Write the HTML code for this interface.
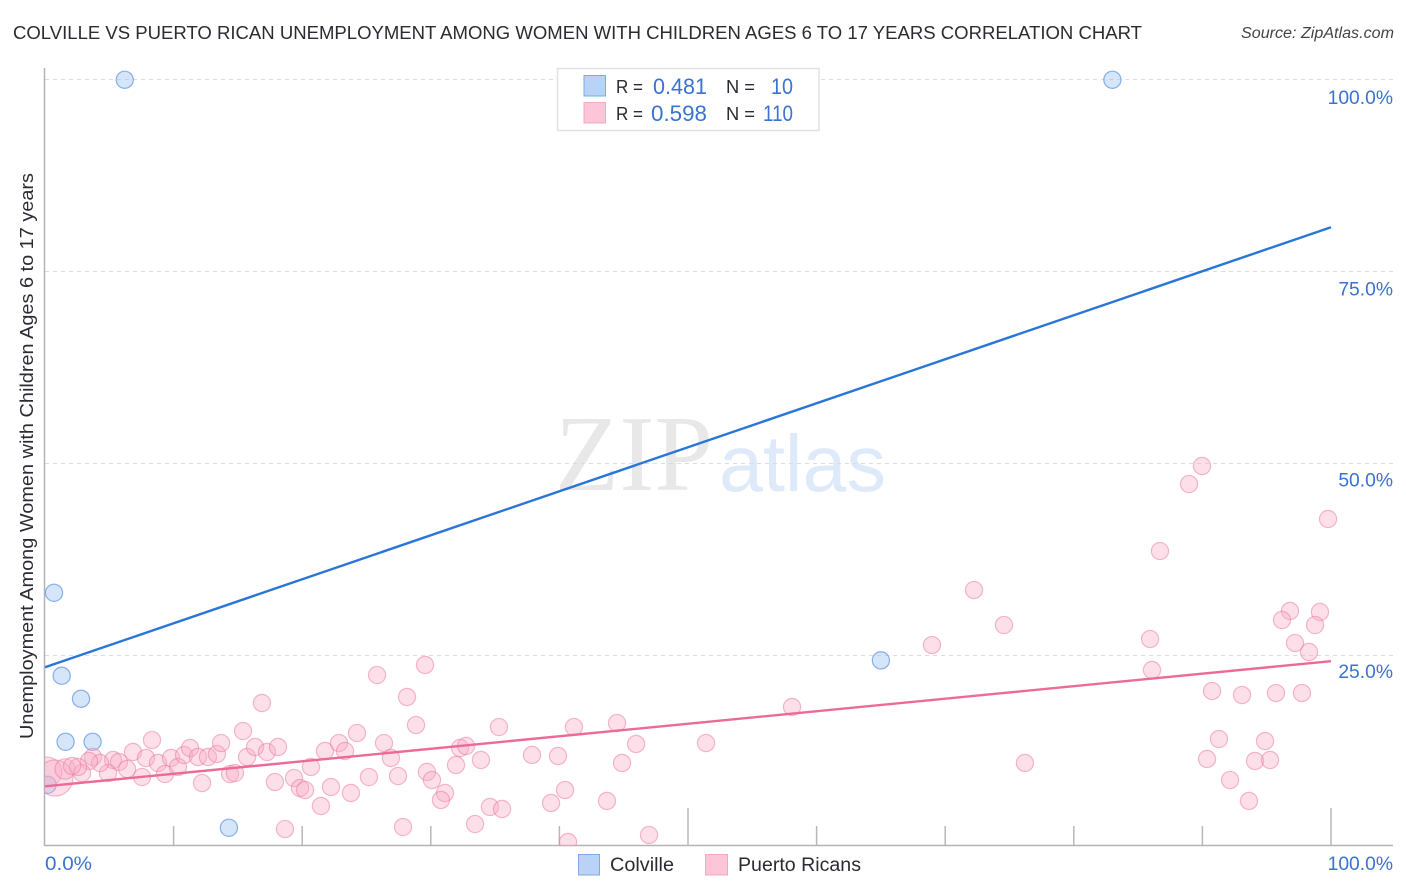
<!DOCTYPE html>
<html lang="en">
<head>
<meta charset="utf-8">
<title>Colville vs Puerto Rican Unemployment Correlation Chart</title>
<style>
html,body{margin:0;padding:0;background:#fff;}
svg{display:block;font-family:"Liberation Sans",sans-serif;}
</style>
</head>
<body>
<svg id="chart" xmlns="http://www.w3.org/2000/svg" width="1406" height="892" viewBox="0 0 1406 892">
  <defs><clipPath id="plot-clip"><rect x="45" y="60" width="1350" height="786"/></clipPath></defs>
  <text x="13" y="39" font-size="18.6" fill="#2b2b33" textLength="1129" lengthAdjust="spacingAndGlyphs">COLVILLE VS PUERTO RICAN UNEMPLOYMENT AMONG WOMEN WITH CHILDREN AGES 6 TO 17 YEARS CORRELATION CHART</text>
  <text x="1394" y="38" font-size="15.5" font-style="italic" fill="#444" text-anchor="end" textLength="153" lengthAdjust="spacingAndGlyphs">Source: ZipAtlas.com</text>
  <text x="555" y="490" font-family="'Liberation Serif',serif" font-size="108" fill="#e8e8e8" textLength="158" lengthAdjust="spacingAndGlyphs">ZIP</text>
  <text x="719" y="491" font-size="80" fill="#deeaf9" textLength="167" lengthAdjust="spacingAndGlyphs">atlas</text>
  <g id="grid"></g>
  <g id="axes">
    <line x1="44.5" y1="68" x2="44.5" y2="846" stroke="#b4b4b4" stroke-width="1.5"/>
    <line x1="44" y1="845.5" x2="1393" y2="845.5" stroke="#b4b4b4" stroke-width="1.5"/>
  </g>
  <g id="x-ticks"></g>
  <g id="y-labels"></g>
  <g id="x-labels"></g>
  <text transform="translate(33,456) rotate(-90)" font-size="18.5" fill="#2b2b33" text-anchor="middle" textLength="566" lengthAdjust="spacingAndGlyphs">Unemployment Among Women with Children Ages 6 to 17 years</text>
  <g id="points" clip-path="url(#plot-clip)"></g>
  <g id="lines"></g>

  <g>
    <rect x="557.5" y="68.5" width="261.5" height="62" fill="#fff" stroke="#e2e2e2" stroke-width="1.5"/>
    <rect x="584" y="75.5" width="21.5" height="20.5" fill="#b9d3f6" stroke="#7eaae6" stroke-width="1"/>
    <rect x="584" y="102.5" width="21.5" height="20.5" fill="#fcc5d8" stroke="#f5a8c2" stroke-width="1"/>
    <text x="616" y="93" font-size="18.5" fill="#2b2b33" textLength="27" lengthAdjust="spacingAndGlyphs">R =</text>
    <text x="653" y="94" font-size="22" fill="#3a73cf" textLength="54" lengthAdjust="spacingAndGlyphs">0.481</text>
    <text x="726" y="93" font-size="18.5" fill="#2b2b33" textLength="29" lengthAdjust="spacingAndGlyphs">N =</text>
    <text x="771" y="94" font-size="22" fill="#3a73cf" textLength="22" lengthAdjust="spacingAndGlyphs">10</text>
    <text x="616" y="120" font-size="18.5" fill="#2b2b33" textLength="27" lengthAdjust="spacingAndGlyphs">R =</text>
    <text x="651" y="121" font-size="22" fill="#3a73cf" textLength="56" lengthAdjust="spacingAndGlyphs">0.598</text>
    <text x="726" y="120" font-size="18.5" fill="#2b2b33" textLength="29" lengthAdjust="spacingAndGlyphs">N =</text>
    <text x="763" y="121" font-size="22" fill="#3a73cf" textLength="30" lengthAdjust="spacingAndGlyphs">110</text>
  </g>

  <g>
    <rect x="578.5" y="854.5" width="21" height="20.5" fill="#b9d3f6" stroke="#7eaae6" stroke-width="1"/>
    <text x="610" y="871" font-size="19" fill="#2b2b33" textLength="64" lengthAdjust="spacingAndGlyphs">Colville</text>
    <rect x="705.5" y="854.5" width="22" height="20.5" fill="#fcc5d8" stroke="#f5a8c2" stroke-width="1"/>
    <text x="738" y="871" font-size="19" fill="#2b2b33" textLength="123" lengthAdjust="spacingAndGlyphs">Puerto Ricans</text>
  </g>
</svg>
<script>
const yTickValues = [100, 75, 50, 25];
const yTickLabels = ["100.0%", "75.0%", "50.0%", "25.0%"];
const xTickValues = [10, 20, 30, 40, 50, 60, 70, 80, 90, 100];
const xEdgeValues = [0, 100];
const xEdgeLabels = ["0.0%", "100.0%"];

const colvilleX = [6.2, 83.0, 0.7, 1.3, 2.8, 1.6, 3.7, 14.3, 65.0, 0.2];
const colvilleY = [99.9, 99.9, 33.1, 22.3, 19.3, 13.7, 13.7, 2.5, 24.3, 8.1];

const puertoX = [8.32, 6.84, 7.85, 5.29, 5.75, 6.38, 4.90, 7.54, 8.79, 9.33, 9.80, 10.34, 10.81, 11.28, 11.90, 12.67, 13.37, 13.69, 12.21, 14.39, 14.77, 15.40, 15.71, 3.73, 4.28, 3.42, 2.88, 2.57, 2.10, 16.87, 16.33, 17.26, 18.12, 17.88, 19.36, 19.83, 20.22, 18.66, 20.68, 21.77, 22.86, 23.33, 24.26, 22.24, 21.46, 23.79, 25.19, 26.36, 26.90, 27.45, 27.84, 28.15, 28.85, 29.70, 30.09, 31.10, 30.79, 31.96, 32.27, 32.74, 35.30, 33.90, 37.87, 39.89, 41.13, 44.48, 45.96, 44.87, 51.40, 40.44, 39.35, 43.70, 34.60, 35.54, 33.44, 40.67, 46.97, 90.75, 93.08, 95.72, 97.74, 91.29, 94.87, 90.36, 94.09, 95.26, 92.15, 93.62, 89.97, 88.96, 99.77, 86.70, 96.81, 96.19, 99.14, 98.76, 97.20, 98.29, 85.93, 86.08, 72.24, 74.57, 68.97, 58.09, 76.20, 29.55, 25.82];
const puertoY = [13.93, 12.37, 11.59, 11.33, 11.07, 10.16, 9.63, 9.11, 10.94, 9.50, 11.59, 10.42, 11.98, 12.89, 11.72, 11.72, 12.11, 13.54, 8.33, 9.50, 9.63, 15.10, 11.72, 11.72, 10.94, 11.20, 9.63, 10.42, 10.55, 18.75, 13.02, 12.37, 13.02, 8.46, 8.98, 7.68, 7.42, 2.34, 10.42, 12.50, 13.54, 12.50, 14.84, 7.81, 5.34, 7.03, 9.11, 13.54, 11.59, 9.24, 2.60, 19.53, 15.88, 9.77, 8.72, 7.03, 6.12, 10.68, 12.89, 13.15, 15.62, 11.33, 11.98, 11.85, 15.62, 16.14, 13.41, 10.94, 13.54, 7.42, 5.73, 5.99, 5.21, 4.95, 2.99, 0.65, 1.56, 20.31, 19.79, 20.05, 20.05, 14.06, 13.80, 11.46, 11.20, 11.33, 8.72, 5.99, 49.61, 47.26, 42.71, 38.54, 30.73, 29.56, 30.60, 28.90, 26.56, 25.39, 27.08, 23.05, 33.46, 28.90, 26.30, 18.23, 10.94, 23.70, 22.39];

const puertoLargeX = [0.15, 0.78, 1.56];
const puertoLargeY = [9.77, 8.98, 10.16];
const puertoLargeWeight = [3.0, 4.4, 1.4];

const trendX = [0, 100];
const colvilleTrendY = [23.4, 80.7];
const puertoTrendY = [7.9, 24.2];

const NS = "http://www.w3.org/2000/svg";
function xScale(v) { return 45 + v * 12.86; }
function yScale(v) { return 847 - v * 7.68; }
function yLabelPos(v) { return 104 + (100 - v) * 7.653; }
function make(tag, attrs, parent, text) {
  const el = document.createElementNS(NS, tag);
  for (const k in attrs) el.setAttribute(k, attrs[k]);
  if (text !== undefined) el.textContent = text;
  parent.appendChild(el);
  return el;
}
const grid = document.getElementById("grid");
const yLabels = document.getElementById("y-labels");
yTickValues.forEach(function (v, i) {
  const line = make("line", {x1: 45, x2: 1393, y1: yScale(v) + 0.5, y2: yScale(v) + 0.5, stroke: "#dcdcdc", "stroke-width": 1, "stroke-dasharray": "4 4"}, grid);
  
  
  const label = make("text", {x: 1393, y: yLabelPos(v), "font-size": 19.3, fill: "#3a73cf", "text-anchor": "end"}, yLabels, yTickLabels[i]);
  
  
});
const xTicks = document.getElementById("x-ticks");
xTickValues.forEach(function (v) {
  const top = v % 50 === 0 ? 808 : 826;
  const tick = make("line", {x1: xScale(v), x2: xScale(v), y1: top, y2: 845, stroke: "#b8b8b8", "stroke-width": 1.5}, xTicks);
  
  
});
const xLabels = document.getElementById("x-labels");
xEdgeValues.forEach(function (v, i) {
  const attrs = i === 0
    ? {x: xScale(v), y: 870, "font-size": 19.3, fill: "#3a73cf", textLength: 47, lengthAdjust: "spacingAndGlyphs"}
    : {x: 1393, y: 870, "font-size": 19.3, fill: "#3a73cf", "text-anchor": "end"};
  const label = make("text", attrs, xLabels, xEdgeLabels[i]);
  
  
});
const points = document.getElementById("points");
colvilleX.forEach(function (v, i) {
  const c = make("circle", {cx: xScale(v), cy: yScale(colvilleY[i]), r: 8.6, fill: "rgba(150,190,242,0.4)", stroke: "rgba(70,130,220,0.6)", "stroke-width": 1.2}, points);
  
  
});
puertoLargeX.forEach(function (v, i) {
  const c = make("circle", {cx: xScale(v), cy: yScale(puertoLargeY[i]), r: 8.6 * Math.sqrt(puertoLargeWeight[i]), fill: "rgba(248,170,198,0.38)", stroke: "rgba(235,120,160,0.5)", "stroke-width": 1.2}, points);
  
  
});
puertoX.forEach(function (v, i) {
  const c = make("circle", {cx: xScale(v), cy: yScale(puertoY[i]), r: 8.6, fill: "rgba(248,170,198,0.38)", stroke: "rgba(235,120,160,0.5)", "stroke-width": 1.2}, points);
  
  
});
const lines = document.getElementById("lines");
const blueLine = make("line", {x1: xScale(trendX[0]), y1: yScale(colvilleTrendY[0]), x2: xScale(trendX[1]), y2: yScale(colvilleTrendY[1]), stroke: "#2a75d8", "stroke-width": 2.4}, lines);


const pinkLine = make("line", {x1: xScale(trendX[0]), y1: yScale(puertoTrendY[0]), x2: xScale(trendX[1]), y2: yScale(puertoTrendY[1]), stroke: "#ec6a98", "stroke-width": 2.4}, lines);


</script>
</body>
</html>
